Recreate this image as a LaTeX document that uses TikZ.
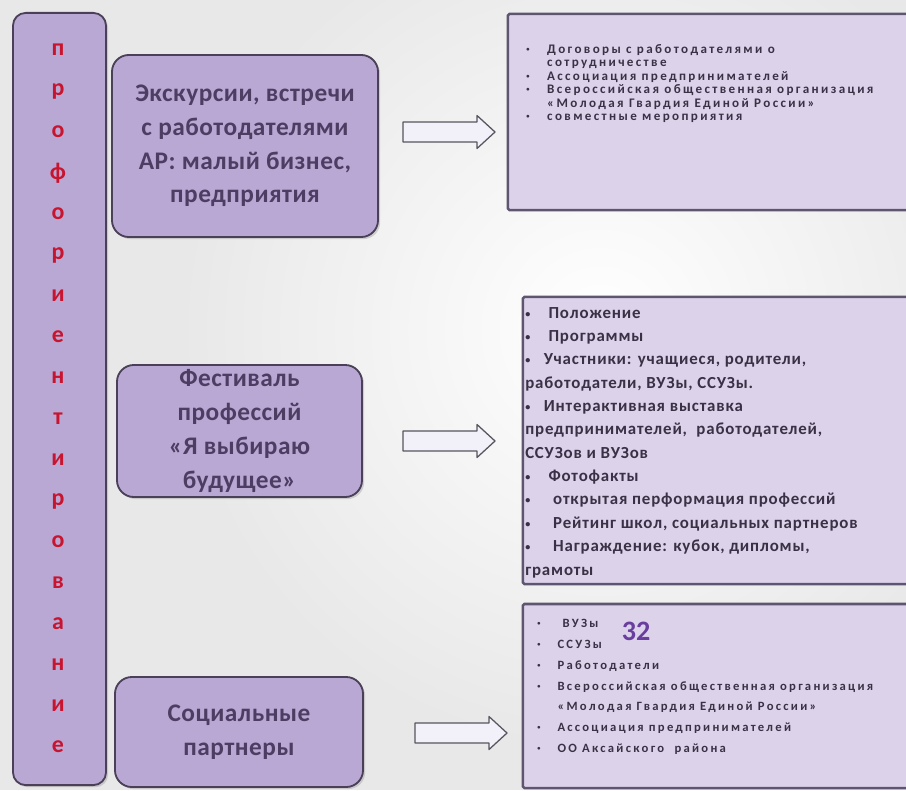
\documentclass[tikz,border=0pt]{standalone}
\usepackage{fontspec}
\setmainfont{Carlito}
\newfontfamily\widefont[LetterSpace=18]{Carlito}
\newfontfamily\listfont[LetterSpace=5]{Carlito}
\newfontfamily\topicfont[LetterSpace=2]{Carlito}
\usetikzlibrary{shadows}
\definecolor{boxfill}{HTML}{B9A8D3}
\definecolor{boxline}{HTML}{4A4058}
\definecolor{boxtext}{HTML}{4E3D63}
\definecolor{listfill}{HTML}{DCD3EA}
\definecolor{listline}{HTML}{5E5570}
\definecolor{listtext}{HTML}{3A3146}
\definecolor{letterred}{HTML}{C8142F}
\definecolor{numpurple}{HTML}{6A3E9E}
\definecolor{arrowline}{HTML}{56565F}
\definecolor{arrowfill}{HTML}{F2F0F9}
\tikzset{
  topicbox/.style={draw=boxline, line width=1.3pt, fill=boxfill,
    rounded corners=12pt, align=center, text=boxtext,
    font=\topicfont\bfseries\fontsize{18}{24}\selectfont,
    drop shadow={opacity=0.3, shadow xshift=1.5pt, shadow yshift=-1.5pt}},
  listbox/.style={draw=listline, line width=1.8pt, fill=listfill,
    rounded corners=1pt, inner sep=0pt},
  listtext/.style={anchor=north west, align=left, text=listtext,
    inner sep=0pt},
  vletter/.style={text=letterred, font=\bfseries\fontsize{17}{17}\selectfont},
  pics/blockarrow/.style={code={
    \draw[draw=arrowline, fill=arrowfill, line width=0.9pt, line join=round]
      (0,-10) -- (74,-10) -- (74,-16.5) -- (92,0) -- (74,16.5)
      -- (74,10) -- (0,10) -- cycle;}},
}
\newcommand{\blt}{\makebox[1.1em][l]{\raisebox{0.15ex}{\scalebox{0.6}{•}}}}
\newcommand{\sblt}{\makebox[1.6em][l]{\raisebox{0.3ex}{\scalebox{0.5}{•}}}}

\begin{document}
\begin{tikzpicture}[x=0.025cm, y=-0.025cm]
  \clip (0,0) rectangle (906,790);
  % background
  \fill[gray!18] (0,0) rectangle (906,790);
  \shade[inner color=white, outer color=gray!18] (600,330) circle (420);

  % left column
  \node[topicbox, rounded corners=9pt, minimum width=2.325cm,
    minimum height=19.3cm] (prof) at (59.5,399) {};
  \foreach \ch [count=\i] in {п,р,о,ф,о,р,и,е,н,т,и,р,о,в,а,н,и,е}
    \node[vletter] (l\i) at (58, 50+41*\i-41) {\ch};

  % topics
  \node[topicbox, minimum width=6.65cm, minimum height=4.55cm] (exc)
    at (245,146) {Экскурсии, встречи\\с работодателями\\АР: малый бизнес,\\предприятия};
  \node[topicbox, minimum width=6.125cm, minimum height=3.3cm] (fest)
    at (239.5,431) {Фестиваль\\профессий\\«Я выбираю\\будущее»};
  \node[topicbox, minimum width=6.2cm, minimum height=2.75cm] (soc)
    at (239,732) {Социальные\\партнеры};

  % details
  \node[listbox, minimum width=10.3cm, minimum height=4.9cm] (det1) at (714,112) {};
  \node[listbox, minimum width=9.925cm, minimum height=7.175cm] (det2) at (721.5,440.5) {};
  \node[listbox, minimum width=9.925cm, minimum height=4.6cm] (det3) at (721.5,696) {};

  \node[listtext, font=\widefont\bfseries\fontsize{9.3}{9.6}\selectfont]
    (det1txt) at (526,44) {%
    \sblt Договоры с работодателями о\\
    \hspace*{1.6em}сотрудничестве\\
    \sblt Ассоциация предпринимателей\\
    \sblt Всероссийская общественная организация\\
    \hspace*{1.6em}«Молодая Гвардия Единой России»\\
    \sblt совместные мероприятия};
  \node[listtext, font=\listfont\bfseries\fontsize{12}{16.6}\selectfont]
    (det2txt) at (525,307) {%
    \blt\ Положение\\
    \blt\ Программы\\
    \blt Участники: учащиеся, родители,\\
    работодатели, ВУЗы, ССУЗы.\\
    \blt Интерактивная выставка\\
    предпринимателей,\ \ работодателей,\\
    ССУЗов и ВУЗов\\
    \blt\ Фотофакты\\
    \blt\ \ открытая перформация профессий\\
    \blt\ \ Рейтинг школ, социальных партнеров\\
    \blt\ \ Награждение: кубок, дипломы,\\
    грамоты};
  \node[listtext, font=\widefont\bfseries\fontsize{9}{14.8}\selectfont]
    (det3txt) at (537,619) {%
    \sblt\ ВУЗы\\
    \sblt ССУЗы\\
    \sblt Работодатели\\
    \sblt Всероссийская общественная организация\\
    \hspace*{1.6em}«Молодая Гвардия Единой России»\\
    \sblt Ассоциация предпринимателей\\
    \sblt ОО Аксайского\ \ района};
  \node[text=numpurple, font=\bfseries\fontsize{20}{20}\selectfont, inner sep=0pt]
    (num) at (636,631) {32};

  % arrows
  \pic (arr1) at (403,132) {blockarrow};
  \pic (arr2) at (403,441) {blockarrow};
  \pic (arr3) at (415,733) {blockarrow};
\end{tikzpicture}
\end{document}
